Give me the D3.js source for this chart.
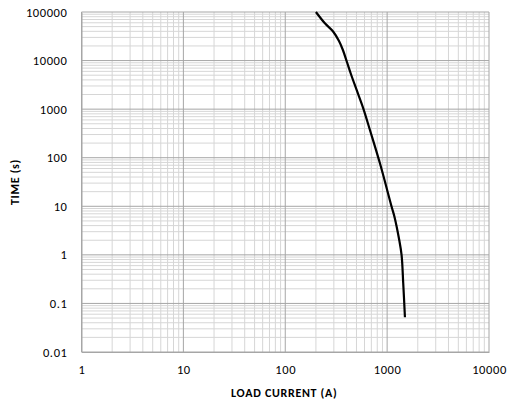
<!DOCTYPE html>
<html><head><meta charset="utf-8">
<script src="https://cdn.jsdelivr.net/npm/d3@7"></script>
<style>
body{margin:0;background:#fff;}
text{font-family:Carlito,Calibri,Lato,"Open Sans",sans-serif;}
</style></head>
<body><svg id="c" width="507" height="406"></svg>
<script>
const currentA = [200, 245, 296, 337, 368, 403, 441, 502, 583, 678, 850, 1107, 1180, 1315, 1387, 1439, 1496];
const timeS    = [100000, 58500, 39300, 25300, 16500, 9350, 5290, 2480, 1040, 372, 76.7, 9.8, 6.1, 2.02, 0.99, 0.26, 0.052];
const xTicks = [1, 10, 100, 1000, 10000];
const yTicks = [0.01, 0.1, 1, 10, 100, 1000, 10000, 100000];
const xTitle = "LOAD CURRENT (A)";
const yTitle = "TIME (s)";

const svg = d3.select("#c");
const L = 81.5, R = 489, T = 12, B = 352;
const x = d3.scaleLog().domain([1, 10000]).range([L, R]);
const y = d3.scaleLog().domain([0.01, 100000]).range([B, T]);

const minorX = [], minorY = [];
for (let d = 1; d < 10000; d *= 10) for (let k = 2; k <= 9; k++) minorX.push(d * k);
for (let d = 0.01; d < 99999; d *= 10) for (let k = 2; k <= 9; k++) minorY.push(d * k);

const g = svg.append("g");
g.selectAll(".mx").data(minorX).enter().append("line")
  .attr("x1", d => x(d)).attr("x2", d => x(d)).attr("y1", T).attr("y2", B)
  .attr("stroke", "#d6d6d6").attr("stroke-width", 1);
g.selectAll(".my").data(minorY).enter().append("line")
  .attr("y1", d => y(d)).attr("y2", d => y(d)).attr("x1", L).attr("x2", R)
  .attr("stroke", "#d6d6d6").attr("stroke-width", 1);
g.selectAll(".Mx").data(xTicks).enter().append("line")
  .attr("x1", d => x(d)).attr("x2", d => x(d)).attr("y1", T).attr("y2", B)
  .attr("stroke", "#a6a6a6").attr("stroke-width", 1);
g.selectAll(".My").data(yTicks).enter().append("line")
  .attr("y1", d => y(d)).attr("y2", d => y(d)).attr("x1", L).attr("x2", R)
  .attr("stroke", "#a6a6a6").attr("stroke-width", 1);

const xAxis = d3.axisBottom(x).tickValues(xTicks).tickFormat(d3.format("d")).tickSize(0).tickPadding(13);
const yAxis = d3.axisLeft(y).tickValues(yTicks).tickFormat(d => d < 1 ? String(d) : d3.format("d")(d)).tickSize(0).tickPadding(14);
const gx = svg.append("g").attr("transform", `translate(0,${B})`).call(xAxis);
const gy = svg.append("g").attr("transform", `translate(${L},0)`).call(yAxis);
[gx, gy].forEach(a => {
  a.select(".domain").attr("stroke", "#a6a6a6");
  a.selectAll("text").attr("font-size", 12.5).attr("letter-spacing", 0.6).attr("fill", "#000");
});

const pts = currentA.map((c, i) => [c, timeS[i]]);
svg.append("path").datum(pts)
  .attr("fill", "none").attr("stroke", "#000").attr("stroke-width", 2.2)
  .attr("d", d3.line().x(d => x(d[0])).y(d => y(d[1])).curve(d3.curveCatmullRom.alpha(0.5)));

svg.append("text").attr("x", (L + R) / 2 - 1).attr("y", 397).attr("text-anchor", "middle")
  .attr("font-size", 12).attr("letter-spacing", 0.7).attr("font-weight", "bold").text(xTitle);
svg.append("text").attr("transform", `translate(19,${(T + B) / 2}) rotate(-90)`).attr("text-anchor", "middle")
  .attr("font-size", 12).attr("letter-spacing", 0.7).attr("font-weight", "bold").text(yTitle);
</script></body></html>
